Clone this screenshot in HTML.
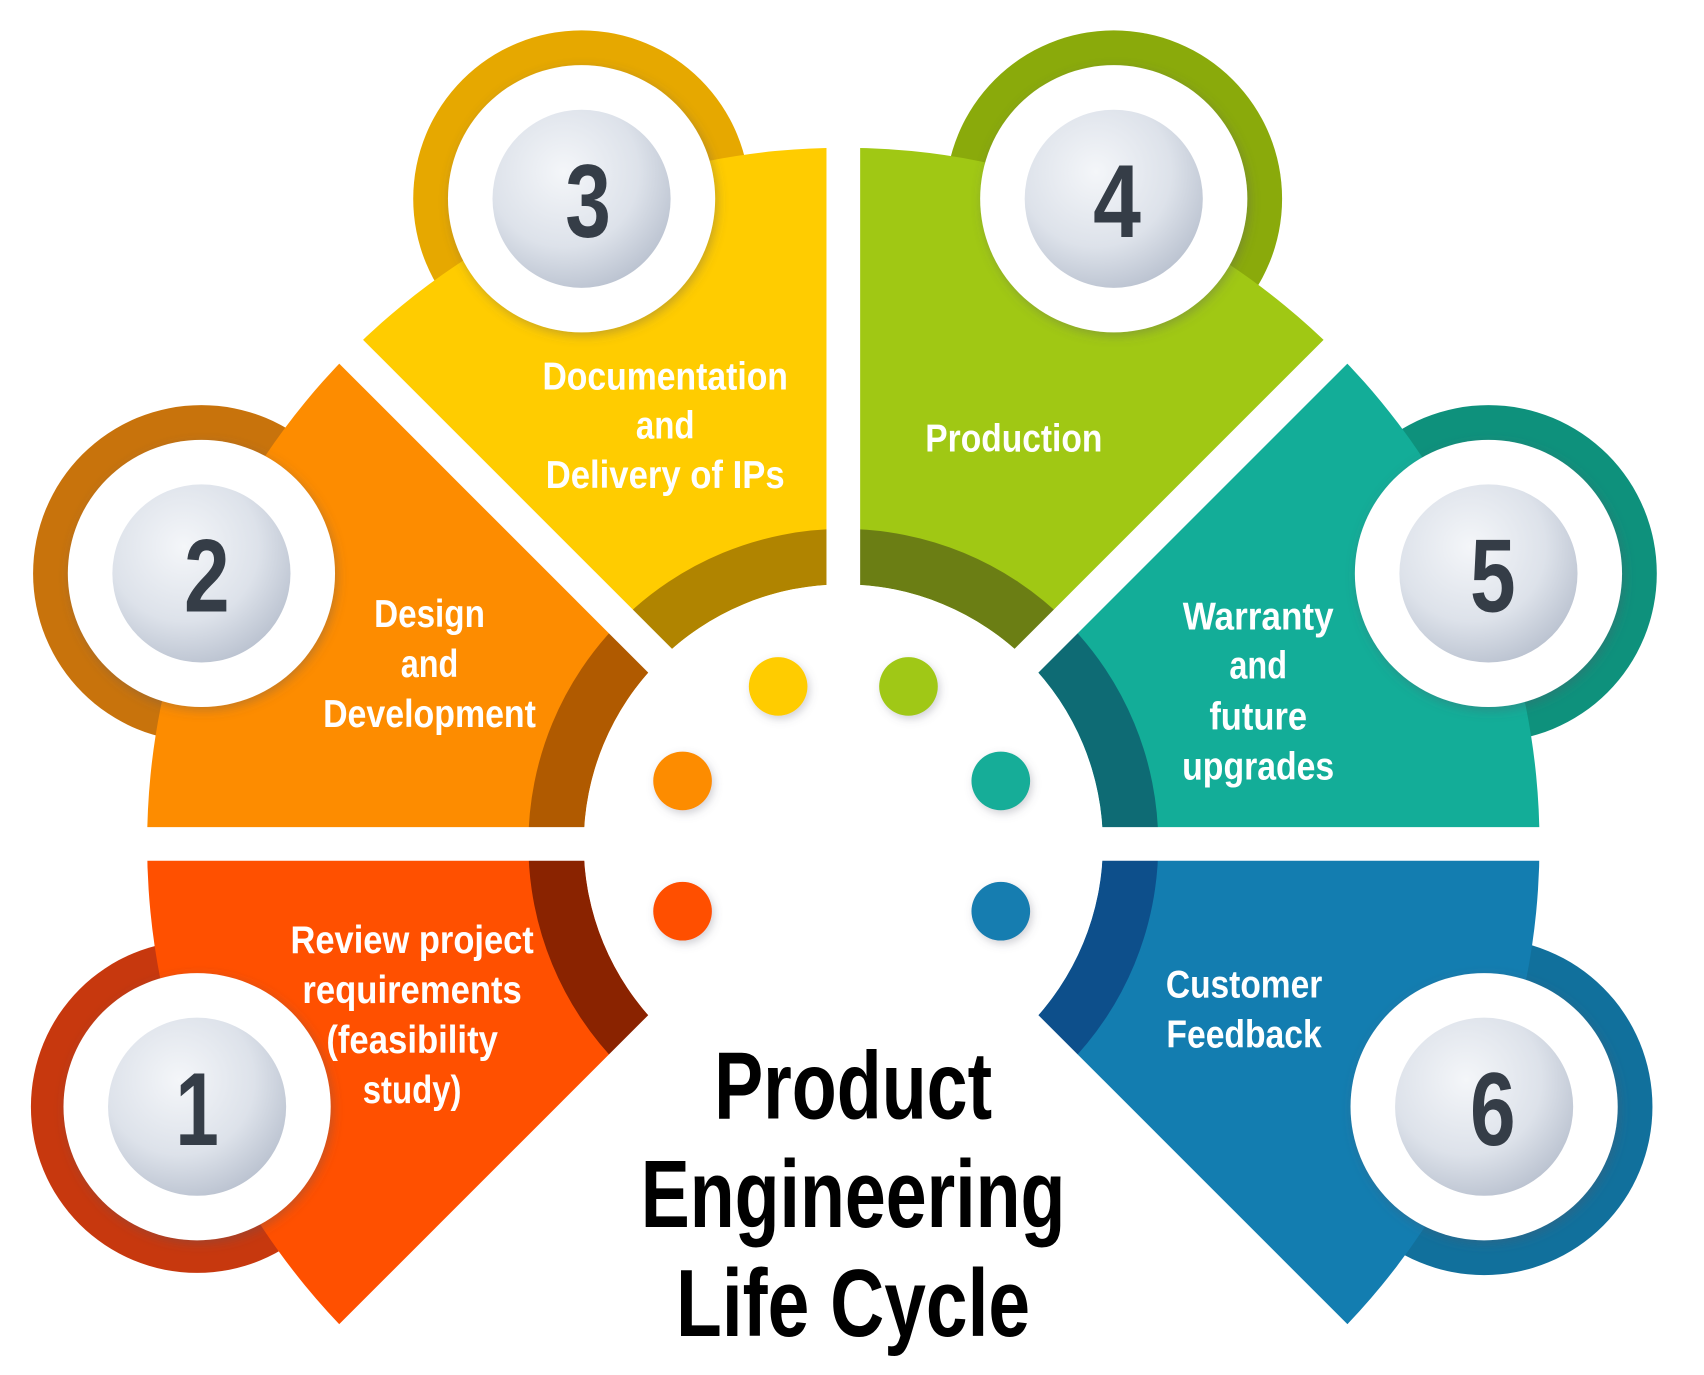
<!DOCTYPE html>
<html><head><meta charset="utf-8"><style>
html,body{margin:0;padding:0;background:#fff;}
svg{display:block;}
text{font-family:"Liberation Sans",sans-serif;font-weight:bold;}
</style></head><body>
<svg width="1704" height="1375" viewBox="0 0 1568 1266" xmlns="http://www.w3.org/2000/svg">
<defs>
<radialGradient id="g" cx="40%" cy="35%" r="70%">
<stop offset="0" stop-color="#f4f6f9"/><stop offset="0.6" stop-color="#dde2ea"/><stop offset="1" stop-color="#b9c1cf"/>
</radialGradient>
<filter id="sh" x="-20%" y="-20%" width="140%" height="140%"><feDropShadow dx="2" dy="3" stdDeviation="5" flood-color="#556" flood-opacity="0.35"/></filter>
<filter id="sd" x="-50%" y="-50%" width="200%" height="200%"><feDropShadow dx="2" dy="3" stdDeviation="4" flood-color="#667" flood-opacity="0.3"/></filter>
</defs>
<circle cx="181" cy="1019" r="153" fill="#c7380e"/>
<circle cx="185" cy="528" r="155" fill="#c8730c"/>
<circle cx="535" cy="183" r="155" fill="#e6a800"/>
<circle cx="1025" cy="183" r="155" fill="#8aaa0b"/>
<circle cx="1370" cy="528" r="155" fill="#0e917c"/>
<circle cx="1366" cy="1019" r="155" fill="#11709c"/>
<path d="M322.7 1230.3 A641 641 0 0 1 135 777 L537 777 A239 239 0 0 0 607 946 Z" fill="#ff5000"/>
<path d="M135 777 A641 641 0 0 1 322.7 323.7 L607 608 A239 239 0 0 0 537 777 Z" fill="#fd8c00"/>
<path d="M322.7 323.7 A641 641 0 0 1 776 136 L776 538 A239 239 0 0 0 607 608 Z" fill="#ffcc00"/>
<path d="M776 136 A641 641 0 0 1 1229.3 323.7 L945 608 A239 239 0 0 0 776 538 Z" fill="#a0c814"/>
<path d="M1229.3 323.7 A641 641 0 0 1 1417 777 L1015 777 A239 239 0 0 0 945 608 Z" fill="#13ad98"/>
<path d="M1417 777 A641 641 0 0 1 1229.3 1230.3 L945 946 A239 239 0 0 0 1015 777 Z" fill="#137db0"/>
<path d="M570.9 982.1 A290 290 0 0 1 486 777 L537 777 A239 239 0 0 0 607 946 Z" fill="#8a2300"/>
<path d="M486 777 A290 290 0 0 1 570.9 571.9 L607 608 A239 239 0 0 0 537 777 Z" fill="#b05a00"/>
<path d="M570.9 571.9 A290 290 0 0 1 776 487 L776 538 A239 239 0 0 0 607 608 Z" fill="#b08400"/>
<path d="M776 487 A290 290 0 0 1 981.1 571.9 L945 608 A239 239 0 0 0 776 538 Z" fill="#6b7e14"/>
<path d="M981.1 571.9 A290 290 0 0 1 1066 777 L1015 777 A239 239 0 0 0 945 608 Z" fill="#0e6b74"/>
<path d="M1066 777 A290 290 0 0 1 981.1 982.1 L945 946 A239 239 0 0 0 1015 777 Z" fill="#0d4f8b"/>
<g stroke="#fff" stroke-width="31">
<line x1="100" y1="777" x2="1450" y2="777"/>
<line x1="776" y1="777" x2="776" y2="110"/>
<line x1="776" y1="777" x2="305" y2="306"/>
<line x1="776" y1="777" x2="1247" y2="306"/>
<line x1="776" y1="777" x2="305" y2="1248"/>
<line x1="776" y1="777" x2="1247" y2="1248"/>
</g>
<circle cx="776" cy="777" r="239" fill="#fff"/>
<g filter="url(#sd)">
<circle cx="716" cy="632" r="27" fill="#ffcc00"/>
<circle cx="836" cy="632" r="27" fill="#a0c814"/>
<circle cx="628" cy="719" r="27" fill="#fd8c00"/>
<circle cx="921" cy="719" r="27" fill="#13ad98"/>
<circle cx="628" cy="839" r="27" fill="#ff5000"/>
<circle cx="921" cy="839" r="27" fill="#137db0"/>
</g>
<g filter="url(#sh)" fill="#fff">
<circle cx="181" cy="1019" r="123"/>
<circle cx="185" cy="528" r="123"/>
<circle cx="535" cy="183" r="123"/>
<circle cx="1025" cy="183" r="123"/>
<circle cx="1370" cy="528" r="123"/>
<circle cx="1366" cy="1019" r="123"/>
</g>
<g fill="url(#g)">
<circle cx="181" cy="1019" r="82"/>
<circle cx="185" cy="528" r="82"/>
<circle cx="535" cy="183" r="82"/>
<circle cx="1025" cy="183" r="82"/>
<circle cx="1370" cy="528" r="82"/>
<circle cx="1366" cy="1019" r="82"/>
</g>
<g fill="#353d47" font-size="96" text-anchor="middle" dominant-baseline="central" lengthAdjust="spacingAndGlyphs">
<text x="181" y="1022" textLength="40" lengthAdjust="spacingAndGlyphs">1</text>
<text x="190" y="531" textLength="42" lengthAdjust="spacingAndGlyphs">2</text>
<text x="541" y="186" textLength="42" lengthAdjust="spacingAndGlyphs">3</text>
<text x="1028" y="186" textLength="44" lengthAdjust="spacingAndGlyphs">4</text>
<text x="1374" y="531" textLength="42" lengthAdjust="spacingAndGlyphs">5</text>
<text x="1374" y="1022" textLength="42" lengthAdjust="spacingAndGlyphs">6</text>
</g>
<g fill="#fff" font-size="36" text-anchor="middle" dominant-baseline="central">
<text x="379" y="866" textLength="224" lengthAdjust="spacingAndGlyphs">Review project</text>
<text x="379" y="912" textLength="202" lengthAdjust="spacingAndGlyphs">requirements</text>
<text x="379" y="958" textLength="158" lengthAdjust="spacingAndGlyphs">(feasibility</text>
<text x="379" y="1004" textLength="91" lengthAdjust="spacingAndGlyphs">study)</text>
<text x="395" y="566" textLength="102" lengthAdjust="spacingAndGlyphs">Design</text>
<text x="395" y="612" textLength="53" lengthAdjust="spacingAndGlyphs">and</text>
<text x="395" y="658" textLength="196" lengthAdjust="spacingAndGlyphs">Development</text>
<text x="612" y="347" textLength="226" lengthAdjust="spacingAndGlyphs">Documentation</text>
<text x="612" y="392" textLength="54" lengthAdjust="spacingAndGlyphs">and</text>
<text x="612" y="438" textLength="220" lengthAdjust="spacingAndGlyphs">Delivery of IPs</text>
<text x="933" y="404" textLength="163" lengthAdjust="spacingAndGlyphs">Production</text>
<text x="1158" y="568" textLength="139" lengthAdjust="spacingAndGlyphs">Warranty</text>
<text x="1158" y="613" textLength="53" lengthAdjust="spacingAndGlyphs">and</text>
<text x="1158" y="660" textLength="90" lengthAdjust="spacingAndGlyphs">future</text>
<text x="1158" y="706" textLength="140" lengthAdjust="spacingAndGlyphs">upgrades</text>
<text x="1145" y="907" textLength="144" lengthAdjust="spacingAndGlyphs">Customer</text>
<text x="1145" y="953" textLength="143" lengthAdjust="spacingAndGlyphs">Feedback</text>
</g>
<g fill="#000" font-size="88" text-anchor="middle" dominant-baseline="central">
<text x="785" y="1000" textLength="256" lengthAdjust="spacingAndGlyphs">Product</text>
<text x="785" y="1100" textLength="391" lengthAdjust="spacingAndGlyphs">Engineering</text>
<text x="785" y="1200" textLength="326" lengthAdjust="spacingAndGlyphs">Life Cycle</text>
</g>
</svg>
</body></html>
